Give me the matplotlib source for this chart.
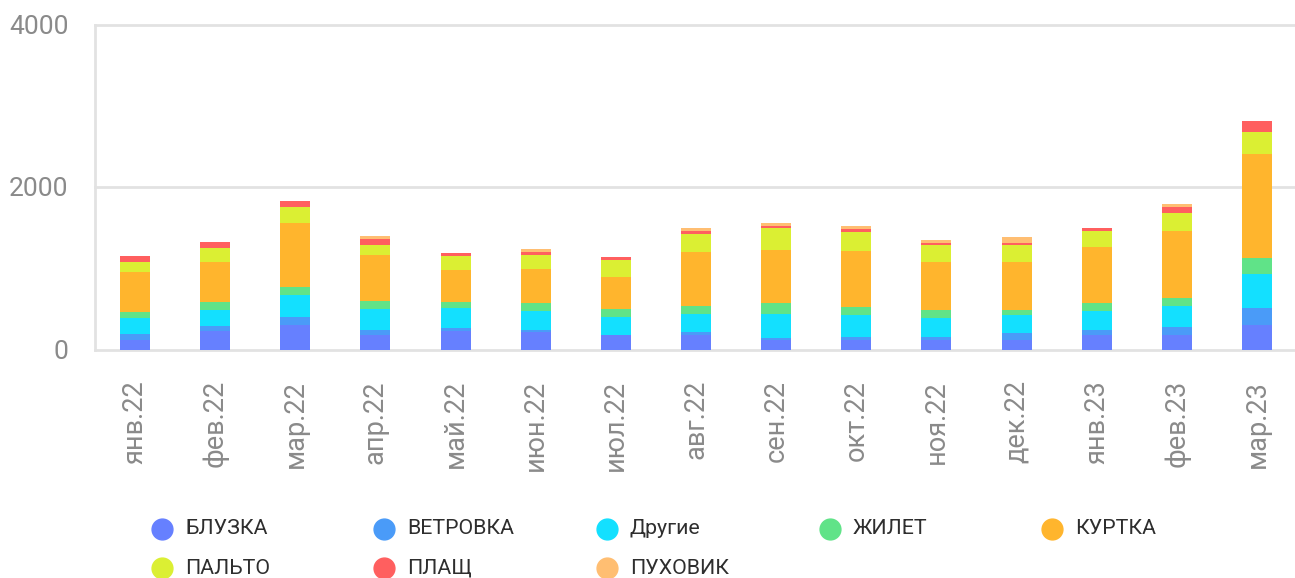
import matplotlib
matplotlib.use("Agg")
import matplotlib.pyplot as plt
import numpy as np
from matplotlib.lines import Line2D

months = ["янв.22", "фев.22", "мар.22", "апр.22", "май.22", "июн.22", "июл.22",
          "авг.22", "сен.22", "окт.22", "ноя.22", "дек.22", "янв.23", "фев.23", "мар.23"]

series_names = ["БЛУЗКА", "ВЕТРОВКА", "Другие", "ЖИЛЕТ", "КУРТКА", "ПАЛЬТО", "ПЛАЩ", "ПУХОВИК"]

bluzka   = [123, 222, 296, 173, 222, 210, 173, 173, 111, 123, 123, 123, 173, 173, 296]
vetrovka = [62, 62, 99, 62, 37, 25, 0, 37, 25, 37, 37, 74, 62, 99, 210]
drugie   = [198, 198, 272, 259, 255, 235, 222, 222, 296, 259, 222, 222, 235, 259, 420]
zhilet   = [74, 99, 99, 99, 66, 99, 99, 99, 136, 99, 99, 62, 99, 99, 198]
kurtka   = [494, 494, 790, 568, 395, 420, 395, 667, 655, 692, 593, 593, 692, 827, 1284]
palto    = [123, 173, 198, 123, 173, 173, 210, 222, 272, 235, 210, 210, 198, 222, 272]
plashch  = [74, 74, 74, 74, 37, 37, 37, 37, 25, 37, 25, 25, 37, 74, 136]
puhovik  = [0, 0, 0, 37, 0, 37, 0, 37, 37, 37, 37, 74, 0, 37, 0]

series_values = [bluzka, vetrovka, drugie, zhilet, kurtka, palto, plashch, puhovik]
colors = ["#6680FF", "#4A9BF8", "#13E0FF", "#60E388", "#FFB52D", "#DBEF33", "#FF5F5F", "#FFBE72"]

yticks = [0, 2000, 4000]

plt.rcParams['font.family'] = ['Roboto', 'DejaVu Sans']

W, H = 1295, 578
fig = plt.figure(figsize=(W / 100, H / 100), dpi=100)
ax = fig.add_axes([95 / W, 1 - 349.5 / H, (1297 - 95) / W, (349.5 - 24.5) / H])

x = np.arange(len(months))
bottom = np.zeros(len(months))
for vals, col in zip(series_values, colors):
    v = np.array(vals, dtype=float)
    ax.bar(x, v, width=0.375, bottom=bottom, color=col, linewidth=0, zorder=3)
    bottom += v

ax.set_xlim(-0.5, len(months) - 0.5)
ax.set_ylim(0, 4000)
ax.set_yticks(yticks)
ax.set_yticklabels([str(t) for t in yticks], color="#8a8a8a", fontsize=19)
ax.set_xticks(x)
ax.set_xticklabels(months, rotation=90, color="#8a8a8a", fontsize=19.5)
ax.tick_params(axis="both", length=0)
ax.tick_params(axis="y", pad=19)
ax.tick_params(axis="x", pad=22)

for s in ["top", "right", "bottom"]:
    ax.spines[s].set_visible(False)
ax.spines["left"].set_color("#e2e2e2")
ax.spines["left"].set_linewidth(2)
for t in yticks:
    ax.axhline(t, color="#e2e2e2", linewidth=2, zorder=1, clip_on=False)

# legend (manual, two rows of five)
for i, (name, col) in enumerate(zip(series_names, colors)):
    r, c = divmod(i, 5)
    cx = 162 + c * 222.5
    cy = 529 + r * 39
    fig.add_artist(Line2D([cx / W], [1 - cy / H], marker="o", markersize=15,
                          color=col, linestyle="none", transform=fig.transFigure))
    fig.text((cx + 23) / W, 1 - cy / H, name, fontsize=15.4, color="#2e2e2e",
             va="center", ha="left")

fig.savefig("out.png", dpi=100)
